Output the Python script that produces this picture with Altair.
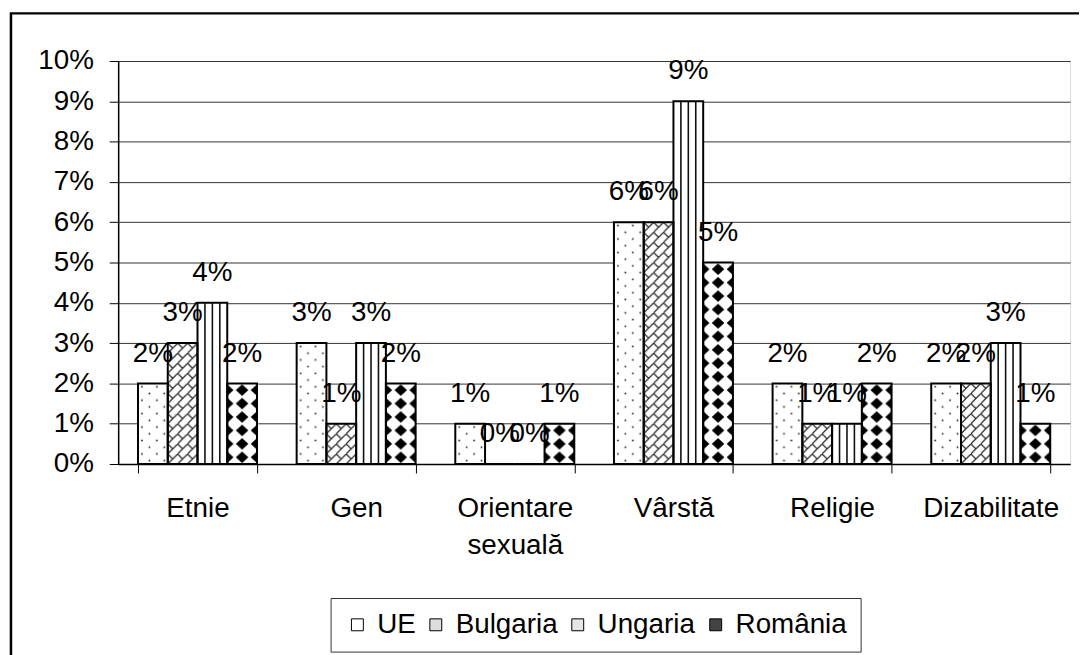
import base64
import altair as alt
import pandas as pd

# ---------------- data ----------------
categories = ["Etnie", "Gen", "Orientare sexuală", "Vârstă", "Religie", "Dizabilitate"]
series = ["UE", "Bulgaria", "Ungaria", "România"]
ue = [2, 3, 1, 6, 2, 2]
bulgaria = [3, 1, 0, 6, 1, 2]
ungaria = [4, 3, 0, 9, 1, 3]
romania = [2, 2, 1, 5, 2, 1]
y_tick_values = [0, 1, 2, 3, 4, 5, 6, 7, 8, 9, 10]

FONT = "Liberation Sans, Arial, Helvetica, sans-serif"
UNIT = 40  # pattern-tile units per percentage point (style only)


def pattern_body(name, H):
    if name == "UE":
        defs = ('<pattern id="p" patternUnits="userSpaceOnUse" width="15" height="13.3333">'
                '<circle cx="4" cy="3.3" r="0.9" fill="#222"/>'
                '<circle cx="11.5" cy="10" r="0.9" fill="#222"/></pattern>')
        return defs, f'<rect width="30" height="{H}" fill="url(#p)"/>'
    if name == "Bulgaria":
        defs = ('<pattern id="p" patternUnits="userSpaceOnUse" width="10" height="10">'
                '<path d="M-1,11 L11,-1 M0,0 L5,5" stroke="#222" stroke-width="1.2" '
                'fill="none"/></pattern>')
        return defs, f'<rect width="30" height="{H}" fill="url(#p)"/>'
    if name == "Ungaria":
        lines = "".join(
            f'<rect x="{x - 0.8}" y="0" width="1.6" height="{H}" fill="#111"/>'
            for x in (7.5, 15, 22.5))
        return "", lines
    # România: diagonal checkerboard of black diamonds
    a, b = 6.3, 5.7
    def diamond(cx, cy):
        return (f'M{cx - a},{cy} L{cx},{cy - b} L{cx + a},{cy} L{cx},{cy + b} Z ')
    d = diamond(0, 6.6667) + diamond(15, 6.6667)
    defs = ('<pattern id="p" patternUnits="userSpaceOnUse" width="15" height="13.3333">'
            f'<path d="{d}" fill="#000"/></pattern>')
    return defs, f'<rect width="30" height="{H}" fill="url(#p)"/>'


def bar_url(name, v):
    if v <= 0:
        return ""
    H = v * UNIT
    defs, body = pattern_body(name, H)
    svg = (f'<svg xmlns="http://www.w3.org/2000/svg" width="30" height="{H}" '
           f'viewBox="0 0 30 {H}" preserveAspectRatio="none"><defs>{defs}</defs>'
           f'<rect width="30" height="{H}" fill="#fff"/>{body}</svg>')
    return "data:image/svg+xml;base64," + base64.b64encode(svg.encode("utf-8")).decode()


rows = []
for i, c in enumerate(categories):
    for s, arr in zip(series, [ue, bulgaria, ungaria, romania]):
        rows.append({"cat": c, "s": s, "v": arr[i] / 100.0, "url": bar_url(s, arr[i])})
df = pd.DataFrame(rows)

x_enc = alt.X("cat:N", sort=categories,
              scale=alt.Scale(paddingInner=0.25, paddingOuter=0.125),
              axis=alt.Axis(title=None, labelAngle=0, tickBand="extent", tickSize=9,
                            tickColor="black", tickWidth=1, domainColor="black",
                            domainWidth=1.5, labelFontSize=28, labelFont=FONT,
                            labelColor="black", labelPadding=22, labelLineHeight=37,
                            grid=False,
                            labelExpr="datum.label == 'Orientare sexuală' ? "
                                      "['Orientare', 'sexuală'] : datum.label"))
xo_enc = alt.XOffset("s:N", sort=series, scale=alt.Scale(paddingInner=0, paddingOuter=0))
y_enc = alt.Y("v:Q", scale=alt.Scale(domain=[0, 0.1], nice=False),
              axis=alt.Axis(title=None, values=[t / 100 for t in y_tick_values],
                            format=".0%", labelFontSize=28, labelFont=FONT,
                            labelColor="black", tickSize=9, tickColor="black",
                            tickWidth=1, domainColor="black", domainWidth=1.5,
                            gridColor="#333", gridWidth=1, labelPadding=16))

base = alt.Chart(df)

white_bars = base.mark_bar(fill="white").encode(x=x_enc, xOffset=xo_enc, y=y_enc)

pattern_imgs = base.transform_filter("datum.v > 0").mark_image(aspect=False).encode(
    x=x_enc, xOffset=xo_enc, y=y_enc, y2=alt.datum(0), url="url:N")

outlines = base.mark_bar(fillOpacity=0, stroke="black", strokeWidth=2).encode(
    x=x_enc, xOffset=xo_enc, y=y_enc)

labels = base.mark_text(baseline="alphabetic", dy=-22, fontSize=28, font=FONT,
                        color="black").encode(
    x=x_enc, xOffset=xo_enc, y=y_enc, text=alt.Text("v:Q", format=".0%"))

legend_layer = base.mark_bar().encode(
    x=x_enc, xOffset=xo_enc, y=alt.datum(0),
    color=alt.Color("s:N", sort=series,
                    scale=alt.Scale(domain=series,
                                    range=["#ffffff", "#dddddd", "#e6e6e6", "#444444"]),
                    legend=alt.Legend(title=None, orient="none", legendX=214, legendY=541,
                                      direction="horizontal", labelFontSize=28,
                                      labelFont=FONT, labelColor="black",
                                      symbolType="square", symbolSize=144,
                                      symbolStrokeColor="black", symbolStrokeWidth=1,
                                      symbolOpacity=1, labelOffset=6, columnPadding=6,
                                      padding=13, strokeColor="#333")))

frame = alt.Chart(pd.DataFrame({"k": [0]})).mark_rect(
    fill=None, stroke="black", strokeWidth=2.5).encode(
    x=alt.value(-108), x2=alt.value(1000), y=alt.value(-48), y2=alt.value(700))

chart = alt.layer(white_bars, pattern_imgs, outlines, labels, legend_layer, frame).properties(
    width=959, height=406,
    autosize=alt.AutoSizeParams(type="none"),
    padding={"left": 111, "top": 51, "right": 9, "bottom": 190},
).configure_view(stroke="#888", strokeWidth=2).configure(background="white")

chart.save("out.html", embed_options={"renderer": "svg", "actions": False})
